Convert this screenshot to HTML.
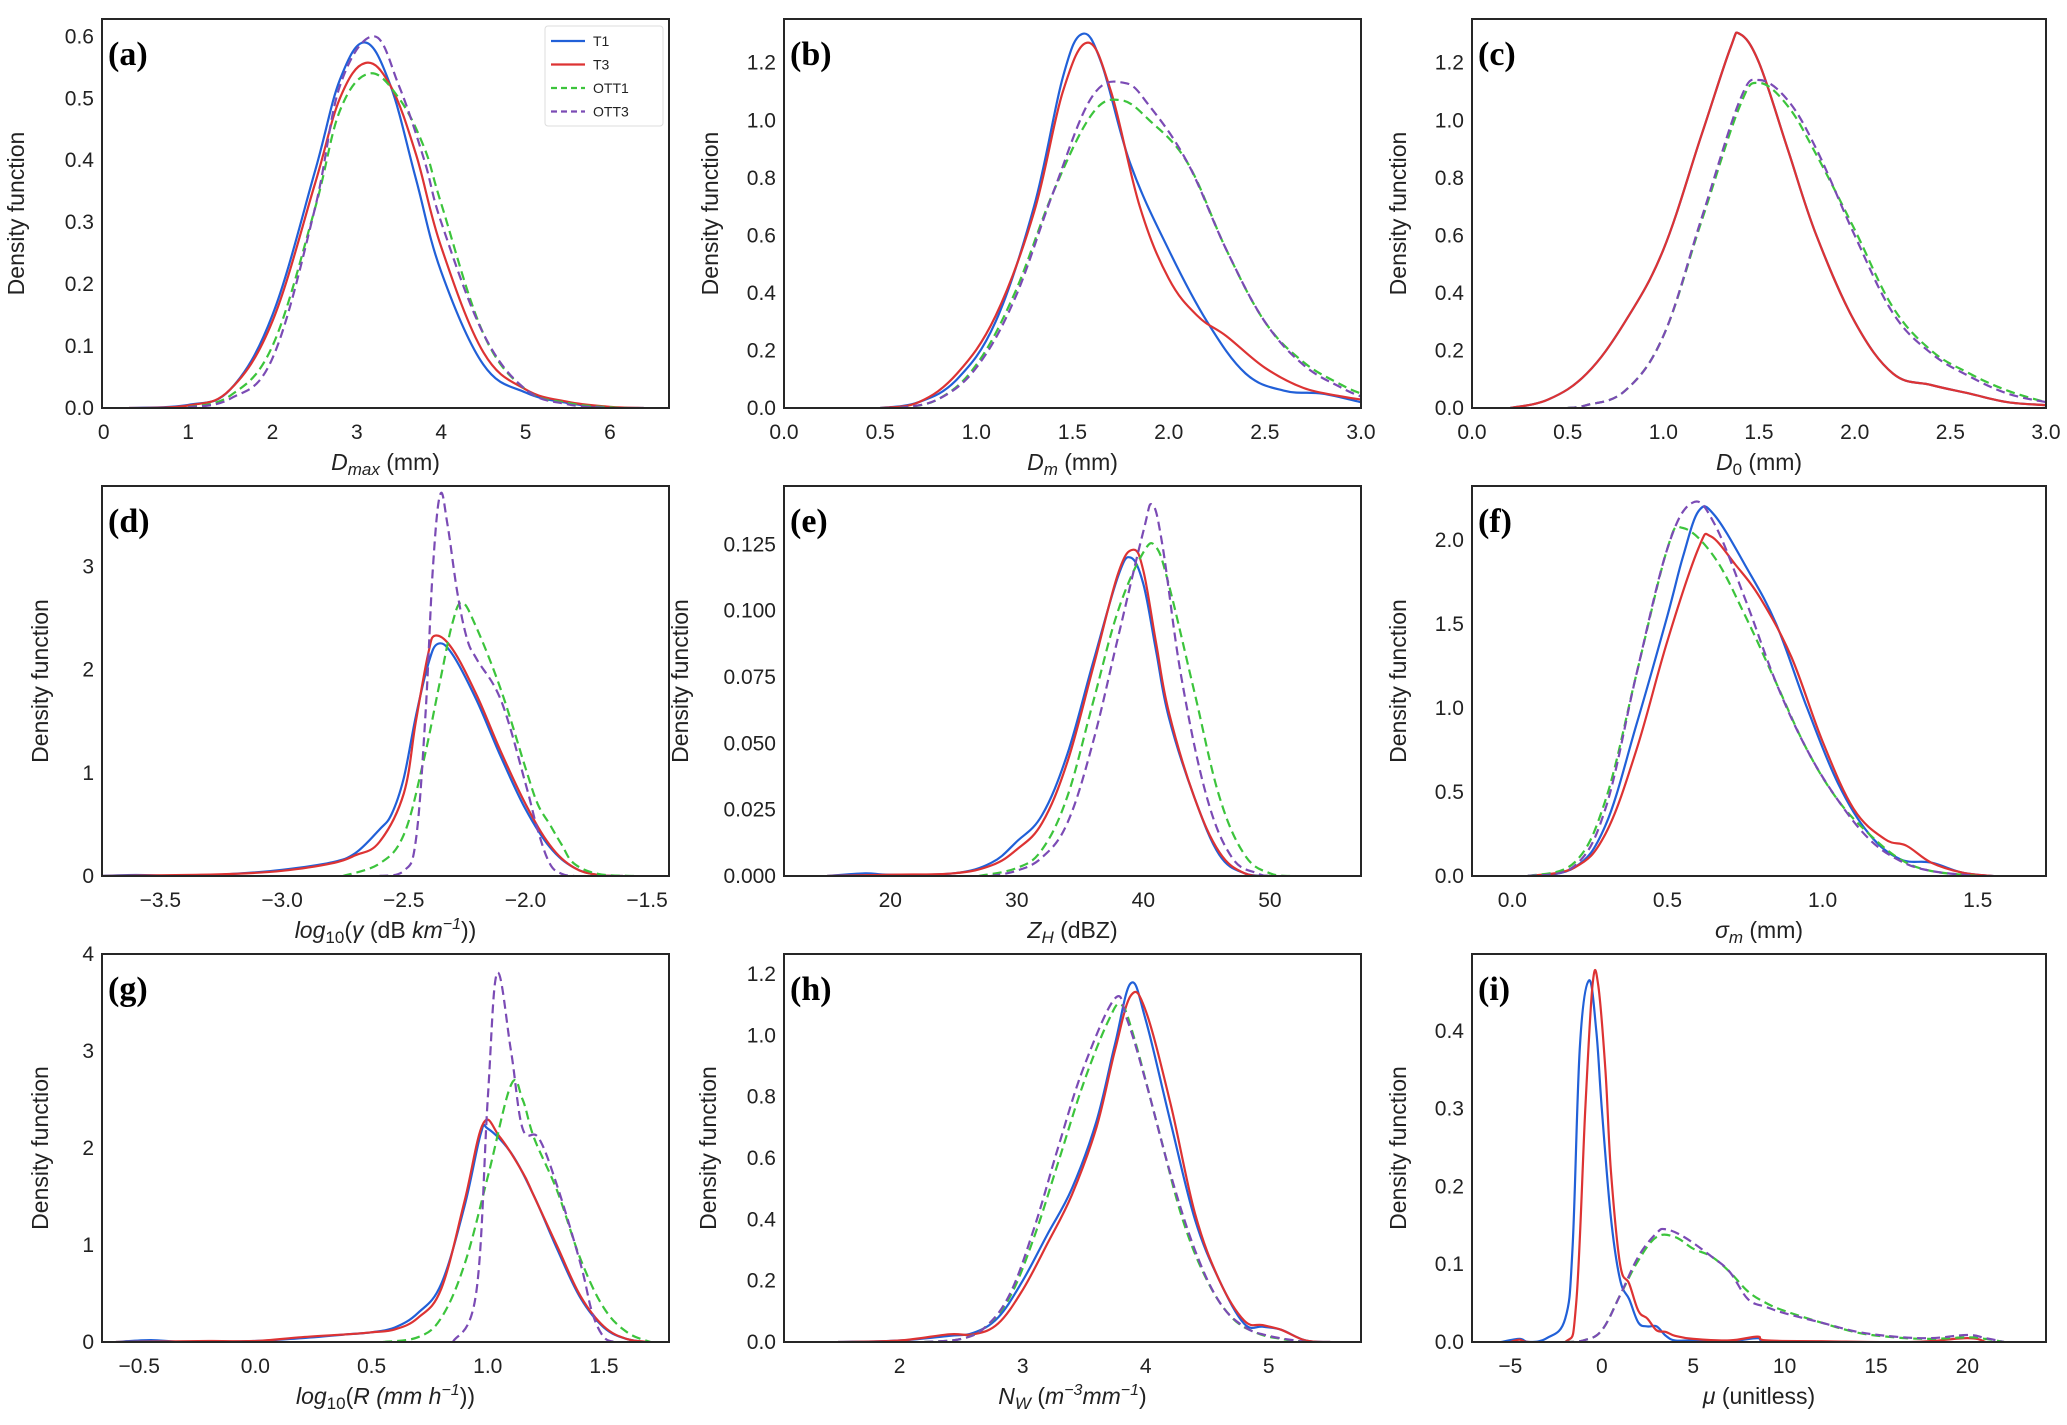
<!DOCTYPE html>
<html><head><meta charset="utf-8">
<style>
html,body{margin:0;padding:0;background:#fff;}
svg{display:block;}
text{font-family:"Liberation Sans",Arial,sans-serif;fill:#222;}
.panel-label{font-family:"Liberation Serif","Times New Roman",serif;font-weight:bold;font-size:34px;fill:#000;}
</style></head>
<body>
<svg id="fig" width="2067" height="1425" viewBox="0 0 2067 1425" xmlns="http://www.w3.org/2000/svg"></svg>
<script>
// ---- data (x, density) ----
const seriesNames = ["T1","T3","OTT1","OTT3"];
const a_T1 = [[0.3,0],[1,0.005],[1.5,0.03],[2,0.15],[2.5,0.38],[2.8,0.53],[3.1,0.59],[3.4,0.52],[3.7,0.37],[4,0.22],[4.5,0.07],[5,0.025],[5.5,0.008],[6,0.001],[6.4,0]];
const a_T3 = [[0.3,0],[1,0.004],[1.5,0.03],[2,0.14],[2.5,0.36],[2.8,0.5],[3.1,0.557],[3.4,0.52],[3.7,0.41],[4,0.26],[4.5,0.09],[5,0.03],[5.5,0.01],[6,0.002],[6.4,0]];
const a_OTT1 = [[1,0.001],[1.5,0.02],[2,0.1],[2.5,0.32],[2.8,0.48],[3.15,0.54],[3.5,0.5],[3.8,0.42],[4,0.33],[4.5,0.12],[5,0.03],[5.5,0.008],[6,0.001],[6.2,0]];
const a_OTT3 = [[1,0.001],[1.5,0.015],[2,0.08],[2.5,0.32],[2.8,0.52],[3.2,0.6],[3.5,0.52],[3.8,0.4],[4,0.3],[4.5,0.12],[5,0.03],[5.5,0.006],[6,0]];

const b_T1 = [[0.5,0],[0.7,0.02],[0.9,0.1],[1.1,0.3],[1.3,0.7],[1.45,1.15],[1.55,1.3],[1.65,1.2],[1.8,0.85],[2.0,0.55],[2.2,0.3],[2.4,0.12],[2.6,0.06],[2.8,0.05],[3.0,0.02]];
const b_T3 = [[0.5,0],[0.7,0.02],[0.9,0.12],[1.1,0.32],[1.3,0.68],[1.45,1.1],[1.58,1.27],[1.7,1.1],[1.85,0.7],[2.0,0.45],[2.15,0.32],[2.3,0.25],[2.5,0.14],[2.7,0.07],[2.9,0.04],[3.0,0.03]];
const b_OTT1 = [[0.6,0],[0.8,0.03],[1.0,0.15],[1.2,0.4],[1.4,0.75],[1.6,1.02],[1.75,1.07],[1.9,1.0],[2.1,0.85],[2.3,0.55],[2.5,0.3],[2.7,0.16],[2.9,0.08],[3.0,0.05]];
const b_OTT3 = [[0.6,0],[0.8,0.03],[1.0,0.14],[1.2,0.38],[1.4,0.75],[1.6,1.08],[1.77,1.13],[1.9,1.05],[2.1,0.85],[2.3,0.55],[2.5,0.3],[2.7,0.15],[2.9,0.07],[3.0,0.04]];

const c_T1 = [[0.2,0],[0.4,0.03],[0.6,0.12],[0.8,0.3],[1.0,0.55],[1.2,0.95],[1.35,1.25],[1.4,1.3],[1.5,1.2],[1.65,0.9],[1.8,0.6],[2.0,0.3],[2.2,0.12],[2.4,0.08],[2.6,0.05],[2.8,0.02],[3.0,0.01]];
const c_T3 = [[0.2,0],[0.4,0.03],[0.6,0.12],[0.8,0.3],[1.0,0.55],[1.2,0.95],[1.35,1.25],[1.4,1.3],[1.5,1.2],[1.65,0.9],[1.8,0.6],[2.0,0.3],[2.2,0.12],[2.4,0.08],[2.6,0.05],[2.8,0.02],[3.0,0.01]];
const c_OTT1 = [[0.5,0],[0.6,0.01],[0.8,0.06],[1.0,0.25],[1.2,0.65],[1.4,1.05],[1.5,1.13],[1.65,1.05],[1.8,0.88],[2.0,0.62],[2.2,0.35],[2.4,0.2],[2.6,0.12],[2.8,0.06],[3.0,0.02]];
const c_OTT3 = [[0.5,0],[0.6,0.01],[0.8,0.06],[1.0,0.25],[1.2,0.66],[1.4,1.07],[1.5,1.14],[1.65,1.07],[1.8,0.9],[2.0,0.6],[2.2,0.33],[2.4,0.19],[2.6,0.11],[2.8,0.05],[3.0,0.02]];

const d_T1 = [[-3.75,0],[-3.6,0.01],[-3.4,0],[-3.2,0.02],[-3.0,0.06],[-2.8,0.13],[-2.7,0.22],[-2.6,0.45],[-2.55,0.6],[-2.5,0.95],[-2.45,1.55],[-2.4,2.05],[-2.36,2.25],[-2.3,2.15],[-2.2,1.7],[-2.1,1.15],[-2.0,0.65],[-1.9,0.28],[-1.8,0.08],[-1.7,0.01],[-1.6,0]];
const d_T3 = [[-3.75,0],[-3.4,0.01],[-3.2,0.02],[-3.0,0.05],[-2.8,0.12],[-2.7,0.2],[-2.6,0.33],[-2.5,0.8],[-2.45,1.5],[-2.4,2.15],[-2.37,2.33],[-2.3,2.2],[-2.2,1.75],[-2.1,1.2],[-2.0,0.7],[-1.9,0.3],[-1.8,0.08],[-1.7,0.01],[-1.6,0]];
const d_OTT1 = [[-2.75,0],[-2.6,0.12],[-2.5,0.4],[-2.42,1.1],[-2.35,1.9],[-2.3,2.45],[-2.26,2.65],[-2.2,2.4],[-2.1,1.8],[-2.0,1.05],[-1.95,0.7],[-1.9,0.5],[-1.85,0.3],[-1.8,0.12],[-1.7,0.02],[-1.55,0]];
const d_OTT3 = [[-2.6,0],[-2.5,0.05],[-2.45,0.35],[-2.41,1.6],[-2.38,3.0],[-2.35,3.7],[-2.32,3.4],[-2.28,2.75],[-2.24,2.3],[-2.2,2.1],[-2.1,1.7],[-2.0,0.9],[-1.95,0.45],[-1.9,0.12],[-1.85,0.02],[-1.8,0]];

const e_T1 = [[15,0],[18,0.001],[20,0.0005],[25,0.001],[28,0.005],[30,0.013],[32,0.023],[34,0.046],[36,0.08],[38,0.113],[39,0.12],[40,0.11],[41,0.085],[42,0.06],[44,0.03],[46,0.008],[48,0.001],[50,0]];
const e_T3 = [[15,0],[20,0.0005],[25,0.001],[28,0.004],[30,0.01],[32,0.02],[34,0.043],[36,0.078],[38,0.114],[39.2,0.123],[40,0.115],[41,0.088],[42,0.062],[44,0.03],[46,0.009],[48,0.001],[50,0]];
const e_OTT1 = [[27,0],[30,0.003],[32,0.01],[34,0.03],[36,0.065],[38,0.1],[40,0.122],[41,0.124],[42,0.11],[44,0.07],[46,0.03],[48,0.008],[50,0.001],[52,0]];
const e_OTT3 = [[28,0],[30,0.002],[32,0.007],[34,0.02],[36,0.05],[38,0.09],[40,0.13],[40.7,0.14],[41.5,0.125],[43,0.075],[45,0.03],[47,0.007],[49,0.001],[50,0]];

const f_T1 = [[0.05,0],[0.2,0.05],[0.3,0.3],[0.4,0.9],[0.5,1.55],[0.55,1.9],[0.6,2.17],[0.65,2.15],[0.75,1.85],[0.85,1.5],[0.95,1.0],[1.05,0.55],[1.15,0.25],[1.25,0.1],[1.35,0.08],[1.45,0.02],[1.55,0]];
const f_T3 = [[0.05,0],[0.2,0.05],[0.3,0.25],[0.4,0.75],[0.5,1.4],[0.6,1.95],[0.64,2.02],[0.72,1.85],[0.8,1.65],[0.9,1.3],[1.0,0.8],[1.1,0.4],[1.2,0.22],[1.27,0.18],[1.35,0.08],[1.45,0.02],[1.55,0]];
const f_OTT1 = [[0.05,0],[0.2,0.08],[0.3,0.45],[0.4,1.2],[0.5,1.95],[0.55,2.07],[0.65,1.9],[0.75,1.55],[0.85,1.15],[0.95,0.75],[1.05,0.45],[1.15,0.25],[1.25,0.1],[1.35,0.03],[1.5,0]];
const f_OTT3 = [[0.05,0],[0.2,0.06],[0.3,0.4],[0.4,1.2],[0.5,1.95],[0.58,2.22],[0.65,2.1],[0.75,1.65],[0.85,1.15],[0.95,0.75],[1.05,0.45],[1.15,0.22],[1.25,0.09],[1.35,0.03],[1.5,0]];

const g_T1 = [[-0.6,0],[-0.45,0.02],[-0.3,0],[0,0.01],[0.2,0.04],[0.4,0.08],[0.5,0.1],[0.6,0.15],[0.7,0.3],[0.8,0.6],[0.9,1.4],[0.97,2.15],[1.0,2.2],[1.1,1.95],[1.2,1.5],[1.3,0.95],[1.4,0.45],[1.5,0.15],[1.6,0.03],[1.7,0]];
const g_T3 = [[-0.6,0],[-0.2,0.01],[0,0.01],[0.2,0.05],[0.4,0.08],[0.5,0.1],[0.6,0.13],[0.7,0.25],[0.8,0.55],[0.9,1.45],[0.98,2.25],[1.05,2.12],[1.15,1.75],[1.2,1.5],[1.3,0.98],[1.4,0.47],[1.5,0.16],[1.6,0.03],[1.7,0]];
const g_OTT1 = [[0.55,0],[0.7,0.05],[0.8,0.25],[0.9,0.8],[1.0,1.7],[1.1,2.65],[1.15,2.5],[1.2,2.1],[1.3,1.55],[1.4,0.85],[1.5,0.35],[1.6,0.1],[1.7,0]];
const g_OTT3 = [[0.85,0],[0.95,0.5],[1.0,2.5],[1.04,3.8],[1.1,3.0],[1.15,2.2],[1.22,2.1],[1.3,1.6],[1.4,0.8],[1.45,0.3],[1.5,0.05],[1.55,0]];

const h_T1 = [[1.5,0],[2.0,0.005],[2.4,0.02],[2.6,0.03],[2.8,0.08],[3.0,0.2],[3.2,0.35],[3.4,0.5],[3.6,0.72],[3.75,0.97],[3.88,1.17],[4.0,1.05],[4.2,0.72],[4.4,0.4],[4.6,0.2],[4.8,0.06],[4.95,0.05],[5.1,0.04],[5.3,0.005],[5.5,0]];
const h_T3 = [[1.5,0],[2.0,0.005],[2.4,0.025],[2.6,0.025],[2.8,0.06],[3.0,0.17],[3.2,0.32],[3.4,0.48],[3.6,0.7],[3.75,0.95],[3.88,1.13],[4.0,1.08],[4.2,0.78],[4.4,0.42],[4.6,0.2],[4.8,0.07],[4.95,0.055],[5.1,0.04],[5.3,0.005],[5.5,0]];
const h_OTT1 = [[2.2,0],[2.5,0.01],[2.7,0.05],[2.9,0.15],[3.1,0.35],[3.3,0.6],[3.5,0.85],[3.7,1.05],[3.8,1.1],[3.9,1.0],[4.1,0.7],[4.3,0.4],[4.5,0.2],[4.7,0.08],[4.9,0.03],[5.1,0.01],[5.3,0]];
const h_OTT3 = [[2.2,0],[2.5,0.01],[2.7,0.05],[2.9,0.16],[3.1,0.38],[3.3,0.65],[3.5,0.9],[3.75,1.12],[3.85,1.05],[4.0,0.85],[4.2,0.55],[4.4,0.3],[4.6,0.13],[4.8,0.05],[5.0,0.02],[5.3,0]];

const i_T1 = [[-5.5,0],[-4.5,0.004],[-4,0],[-3,0.005],[-2,0.03],[-1.6,0.12],[-1.2,0.38],[-0.7,0.465],[-0.3,0.4],[0,0.3],[0.5,0.16],[1.0,0.08],[1.5,0.055],[2,0.025],[2.5,0.02],[3,0.02],[3.5,0.008],[4,0.002],[5,0.002],[7,0.001],[8.5,0.005],[9,0.001],[12,0]];
const i_T3 = [[-5,0],[-4.5,0.003],[-4,0],[-2,0],[-1.4,0.05],[-0.9,0.3],[-0.5,0.46],[-0.2,0.46],[0.2,0.35],[0.5,0.22],[1.0,0.1],[1.5,0.075],[2,0.04],[2.5,0.03],[3,0.015],[3.5,0.013],[4,0.008],[5,0.004],[7,0.002],[8.5,0.007],[9,0.002],[12,0.001],[17,0],[20,0.005],[21,0]];
const i_OTT1 = [[-2,0],[-1,0.002],[0,0.015],[1,0.06],[2,0.105],[3,0.135],[4,0.135],[5,0.12],[6,0.11],[7,0.09],[8,0.065],[9,0.05],[10,0.04],[12,0.025],[14,0.012],[16,0.006],[18,0.004],[20,0.006],[21,0.004],[22,0]];
const i_OTT3 = [[-2,0],[-1,0.002],[0,0.015],[1,0.06],[2,0.11],[3,0.14],[3.5,0.145],[4.5,0.135],[6,0.11],[7,0.09],[8,0.055],[9,0.045],[10,0.037],[12,0.025],[14,0.013],[16,0.007],[18,0.005],[20,0.009],[21,0.005],[22,0]];

// tick arrays
const a_xticks=[0,1,2,3,4,5,6], a_yticks=[0,0.1,0.2,0.3,0.4,0.5,0.6];
const b_xticks=[0,0.5,1,1.5,2,2.5,3], b_yticks=[0,0.2,0.4,0.6,0.8,1.0,1.2];
const c_xticks=[0,0.5,1,1.5,2,2.5,3], c_yticks=[0,0.2,0.4,0.6,0.8,1.0,1.2];
const d_xticks=[-3.5,-3,-2.5,-2,-1.5], d_yticks=[0,1,2,3];
const e_xticks=[20,30,40,50], e_yticks=[0,0.025,0.05,0.075,0.1,0.125];
const f_xticks=[0,0.5,1,1.5], f_yticks=[0,0.5,1,1.5,2];
const g_xticks=[-0.5,0,0.5,1,1.5], g_yticks=[0,1,2,3,4];
const h_xticks=[2,3,4,5], h_yticks=[0,0.2,0.4,0.6,0.8,1.0,1.2];
const i_xticks=[-5,0,5,10,15,20], i_yticks=[0,0.1,0.2,0.3,0.4];

const NS="http://www.w3.org/2000/svg";
const svg=document.getElementById('fig');
const colors={T1:"#2160d8",T3:"#dd3333",OTT1:"#3cc43c",OTT3:"#7b4bb5"};
const dashed={T1:false,T3:false,OTT1:true,OTT3:true};
function el(tag,attrs,parent){const e=document.createElementNS(NS,tag);for(const k in attrs)e.setAttribute(k,attrs[k]);(parent||svg).appendChild(e);return e;}
function fmt(v,dec){let s=v.toFixed(dec);return s.replace('-','\u2212');}

const cols=[[102,669],[784,1361],[1472,2046]];
const rows=[[19,408],[486,876],[954,1342]];

const panels=[
 {id:'a',c:0,r:0,xl:[-0.02,6.7],yl:[0,0.628],xt:a_xticks,yt:a_yticks,xd:0,yd:1,d:[a_T1,a_T3,a_OTT1,a_OTT3],ylx:78,xlab:'dmax',legend:true},
 {id:'b',c:1,r:0,xl:[0,3.0],yl:[0,1.352],xt:b_xticks,yt:b_yticks,xd:1,yd:1,d:[b_T1,b_T3,b_OTT1,b_OTT3],ylx:66,xlab:'dm'},
 {id:'c',c:2,r:0,xl:[0,3.0],yl:[0,1.352],xt:c_xticks,yt:c_yticks,xd:1,yd:1,d:[c_T1,c_T3,c_OTT1,c_OTT3],ylx:66,xlab:'d0'},
 {id:'d',c:0,r:1,xl:[-3.74,-1.41],yl:[0,3.78],xt:d_xticks,yt:d_yticks,xd:1,yd:0,d:[d_T1,d_T3,d_OTT1,d_OTT3],ylx:54,xlab:'gamma'},
 {id:'e',c:1,r:1,xl:[11.6,57.2],yl:[0,0.147],xt:e_xticks,yt:e_yticks,xd:0,yd:3,d:[e_T1,e_T3,e_OTT1,e_OTT3],ylx:96,xlab:'zh'},
 {id:'f',c:2,r:1,xl:[-0.13,1.72],yl:[0,2.32],xt:f_xticks,yt:f_yticks,xd:1,yd:1,d:[f_T1,f_T3,f_OTT1,f_OTT3],ylx:66,xlab:'sigma'},
 {id:'g',c:0,r:2,xl:[-0.66,1.78],yl:[0,4.0],xt:g_xticks,yt:g_yticks,xd:1,yd:0,d:[g_T1,g_T3,g_OTT1,g_OTT3],ylx:54,xlab:'rain'},
 {id:'h',c:1,r:2,xl:[1.06,5.75],yl:[0,1.265],xt:h_xticks,yt:h_yticks,xd:0,yd:1,d:[h_T1,h_T3,h_OTT1,h_OTT3],ylx:68,xlab:'nw'},
 {id:'i',c:2,r:2,xl:[-7.1,24.3],yl:[0,0.499],xt:i_xticks,yt:i_yticks,xd:0,yd:1,d:[i_T1,i_T3,i_OTT1,i_OTT3],ylx:66,xlab:'mu'}
];

function xlabelHTML(k){
 switch(k){
  case 'dmax': return '<tspan font-style="italic">D</tspan><tspan font-style="italic" font-size="17" dy="5">max</tspan><tspan dy="-5"> (mm)</tspan>';
  case 'dm': return '<tspan font-style="italic">D</tspan><tspan font-style="italic" font-size="17" dy="5">m</tspan><tspan dy="-5"> (mm)</tspan>';
  case 'd0': return '<tspan font-style="italic">D</tspan><tspan font-size="17" dy="5">0</tspan><tspan dy="-5"> (mm)</tspan>';
  case 'gamma': return '<tspan font-style="italic">log</tspan><tspan font-size="17" dy="5">10</tspan><tspan dy="-5">(</tspan><tspan font-style="italic">γ</tspan><tspan> (dB </tspan><tspan font-style="italic">km</tspan><tspan font-style="italic" font-size="16" dy="-9">−1</tspan><tspan dy="9">))</tspan>';
  case 'zh': return '<tspan font-style="italic">Z</tspan><tspan font-style="italic" font-size="17" dy="5">H</tspan><tspan dy="-5"> (dBZ)</tspan>';
  case 'sigma': return '<tspan font-style="italic">σ</tspan><tspan font-style="italic" font-size="17" dy="5">m</tspan><tspan dy="-5"> (mm)</tspan>';
  case 'rain': return '<tspan font-style="italic">log</tspan><tspan font-size="17" dy="5">10</tspan><tspan dy="-5">(</tspan><tspan font-style="italic">R (mm h</tspan><tspan font-style="italic" font-size="16" dy="-9">−1</tspan><tspan dy="9">))</tspan>';
  case 'nw': return '<tspan font-style="italic">N</tspan><tspan font-style="italic" font-size="17" dy="5">W</tspan><tspan dy="-5"> (</tspan><tspan font-style="italic">m</tspan><tspan font-style="italic" font-size="16" dy="-9">−3</tspan><tspan font-style="italic" dy="9">mm</tspan><tspan font-style="italic" font-size="16" dy="-9">−1</tspan><tspan dy="9">)</tspan>';
  case 'mu': return '<tspan font-style="italic">μ</tspan><tspan> (unitless)</tspan>';
 }
}

function smoothPath(pts){
 let d='M'+pts[0][0].toFixed(1)+','+pts[0][1].toFixed(1);
 for(let i=0;i<pts.length-1;i++){
  const p0=pts[Math.max(0,i-1)],p1=pts[i],p2=pts[i+1],p3=pts[Math.min(pts.length-1,i+2)];
  const t=0.18;
  const c1x=p1[0]+(p2[0]-p0[0])*t, c1y=p1[1]+(p2[1]-p0[1])*t;
  const c2x=p2[0]-(p3[0]-p1[0])*t, c2y=p2[1]-(p3[1]-p1[1])*t;
  d+=' C'+c1x.toFixed(1)+','+c1y.toFixed(1)+' '+c2x.toFixed(1)+','+c2y.toFixed(1)+' '+p2[0].toFixed(1)+','+p2[1].toFixed(1);
 }
 return d;
}

panels.forEach(p=>{
 const L=cols[p.c][0],R=cols[p.c][1],T=rows[p.r][0],B=rows[p.r][1];
 const sx=v=>L+(v-p.xl[0])/(p.xl[1]-p.xl[0])*(R-L);
 const sy=v=>B-(v-p.yl[0])/(p.yl[1]-p.yl[0])*(B-T);
 const g=el('g',{});
 
 
 const cp=el('clipPath',{id:'clip-'+p.id},g);
 el('rect',{x:L,y:T,width:R-L,height:B-T},cp);
 p.d.forEach((arr,si)=>{
  const nm=seriesNames[si];
  const pts=arr.map(q=>[sx(q[0]),sy(q[1])]);
  const path=el('path',{d:smoothPath(pts),fill:'none',stroke:colors[nm],'stroke-width':2.2,'clip-path':'url(#clip-'+p.id+')','stroke-linejoin':'round'},g);
  if(dashed[nm]) path.setAttribute('stroke-dasharray','9,5');
  
  
 });
 const fr=el('rect',{x:L,y:T,width:R-L,height:B-T,fill:'none',stroke:'#262626','stroke-width':2},g);
 
 
 p.xt.forEach(v=>{
  const t=el('text',{x:sx(v),y:B+31,'text-anchor':'middle','font-size':21},g);
  t.textContent=fmt(v,p.xd);
  
  
 });
 p.yt.forEach(v=>{
  const t=el('text',{x:L-8,y:sy(v)+7,'text-anchor':'end','font-size':21},g);
  t.textContent=fmt(v,p.yd);
  
  
 });
 const xlab=el('text',{x:(L+R)/2,y:B+62,'text-anchor':'middle','font-size':23},g);
 xlab.innerHTML=xlabelHTML(p.xlab);
 
 
 const yx=L-p.ylx, yy=(T+B)/2;
 const ylab=el('text',{x:yx,y:yy,'text-anchor':'middle','font-size':23,transform:'rotate(-90 '+yx+' '+yy+')'},g);
 ylab.textContent='Density function';
 
 
 const pl=el('text',{x:L+6,y:T+46,'class':'panel-label'},g);
 pl.textContent='('+p.id+')';
 
 
 if(p.legend){
  const lg=el('g',{},g);
  
  
  el('rect',{x:545,y:26,width:118,height:100,rx:3,fill:'#fff',stroke:'#dddddd','stroke-width':1},lg);
  seriesNames.forEach((nm,k)=>{
   const y=41+k*23.5;
   const ln=el('line',{x1:551,y1:y,x2:585,y2:y,stroke:colors[nm],'stroke-width':2.2},lg);
   if(dashed[nm]) ln.setAttribute('stroke-dasharray','6,4');
   
   
   const tx=el('text',{x:593,y:y+5,'font-size':14},lg);
   tx.textContent=nm;
   
   
  });
 }
});
</script>
</body></html>
